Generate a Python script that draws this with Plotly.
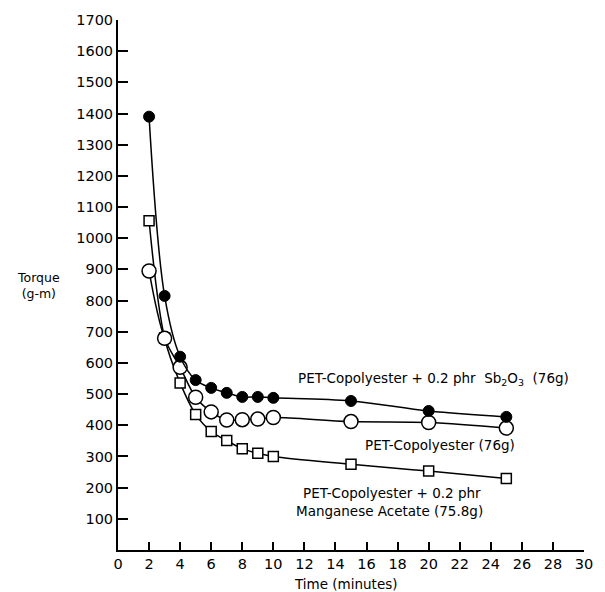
import plotly.graph_objects as go

time_min = [2, 3, 4, 5, 6, 7, 8, 9, 10, 15, 20, 25]
sb2o3 = [1390, 815, 620, 545, 520, 504, 491, 491, 488, 478, 446, 427]
pet = [895, 679, 586, 490, 443, 417, 418, 420, 425, 412, 409, 391]
mn_acetate = [1056, 680, 536, 435, 380, 351, 325, 310, 300, 275, 253, 229]

x_ticks = list(range(0, 31, 2))
y_ticks = list(range(100, 1701, 100))

FONT = "DejaVu Sans, Verdana, sans-serif"

fig = go.Figure()
fig.add_trace(go.Scatter(
    x=time_min, y=mn_acetate, mode="lines+markers", line_shape="spline",
    line=dict(color="black", width=1.5),
    marker=dict(symbol="square", size=10, color="white", line=dict(color="black", width=1.5)),
    showlegend=False))
fig.add_trace(go.Scatter(
    x=time_min, y=pet, mode="lines+markers", line_shape="spline",
    line=dict(color="black", width=1.5),
    marker=dict(symbol="circle", size=14, color="white", line=dict(color="black", width=1.5)),
    showlegend=False))
fig.add_trace(go.Scatter(
    x=time_min, y=sb2o3, mode="lines+markers", line_shape="spline",
    line=dict(color="black", width=1.5),
    marker=dict(symbol="circle", size=11, color="black", line=dict(color="black", width=1)),
    showlegend=False))

annots = [
    dict(x=20.28, y=548, text="PET-Copolyester + 0.2 phr  Sb<sub>2</sub>O<sub>3</sub>  (76g)"),
    dict(x=20.7, y=338, text="PET-Copolyester (76g)"),
    dict(x=17.65, y=184, text="PET-Copolyester + 0.2 phr"),
    dict(x=17.5, y=124, text="Manganese Acetate (75.8g)"),
]
for a in annots:
    fig.add_annotation(x=a["x"], y=a["y"], text=a["text"], showarrow=False,
                       xref="x", yref="y", font=dict(family=FONT, size=13.5, color="black"))

fig.add_annotation(x=-0.17, y=0.5, xref="paper", yref="paper", text="Torque<br>(g-m)",
                   xanchor="center", yanchor="middle", showarrow=False,
                   font=dict(family=FONT, size=12.5, color="black"))
fig.add_annotation(x=0.49, y=-0.0644, xref="paper", yref="paper", text="Time (minutes)",
                   xanchor="center", yanchor="middle", showarrow=False,
                   font=dict(family=FONT, size=13.5, color="black"))

fig.update_layout(
    width=605, height=592,
    margin=dict(l=118, r=12, t=15, b=42),
    paper_bgcolor="white", plot_bgcolor="white",
    font=dict(family=FONT, size=13, color="black"),
    xaxis=dict(range=[0, 30], tickvals=x_ticks, ticks="inside", ticklen=8, tickwidth=1.5,
               tickcolor="black", showline=True, linecolor="black", linewidth=2,
               showgrid=False, zeroline=False, tickfont=dict(family=FONT, size=14.5)),
    yaxis=dict(range=[0, 1700], tickvals=y_ticks, ticks="inside", ticklen=10, tickwidth=1.5,
               tickcolor="black", showline=True, linecolor="black", linewidth=2,
               showgrid=False, zeroline=False, tickfont=dict(family=FONT, size=14.5)),
)

fig.write_html("out.html")
